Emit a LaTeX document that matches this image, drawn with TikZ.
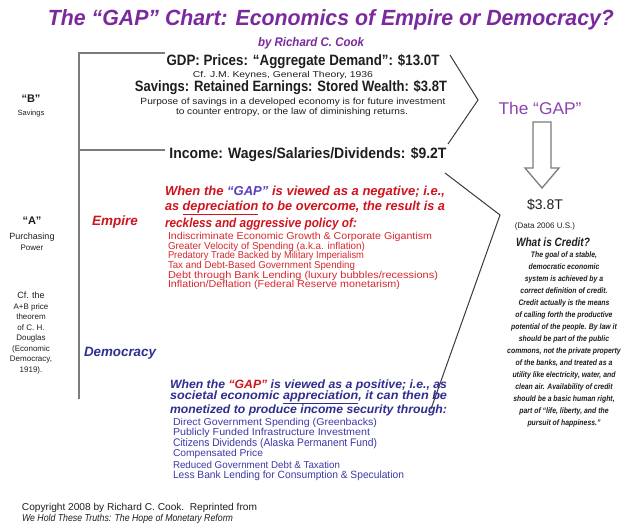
\documentclass[tikz,border=0pt]{standalone}
\usepackage{fontspec}
\setmainfont{Liberation Sans}
\usepackage{graphicx}
% scale a line of text to a given width, keeping its height
\newcommand\fitto[2]{\resizebox{#1}{\height}{#2}}
\newcommand\fsz[1]{\fontsize{#1}{#1}\selectfont}

\definecolor{titlepurple}{HTML}{7A2A9C}
\definecolor{gappurple}{HTML}{8C44B0}
\definecolor{gapblue}{HTML}{5B3BC0}
\definecolor{empirered}{HTML}{D0141E}
\definecolor{listred}{HTML}{D8282E}
\definecolor{demoblue}{HTML}{2E2E90}
\definecolor{listblue}{HTML}{3A3AA8}
\definecolor{rulegray}{HTML}{7C7C7C}
\definecolor{inkgray}{HTML}{1E1E1E}
\definecolor{notegray}{HTML}{3A3A3A}

\begin{document}
\begin{tikzpicture}[x=1pt,y=-1pt,
  lbl/.style={inner sep=0pt, outer sep=0pt, text=inkgray},
  lft/.style={lbl, anchor=west},
  rule/.style={draw=rulegray, line width=2.4pt},
  hrule/.style={draw=rulegray, line width=1.8pt},
  chev/.style={draw=notegray, line width=1pt, line join=miter},
  hollow/.style={draw=rulegray, line width=1.3pt, fill=white, line join=miter}]

\useasboundingbox (0,0) rectangle (629,525);
\fill[white] (0,0) rectangle (629,525);

% heading
\node[lbl, text=titlepurple, font=\fsz{22}\bfseries\itshape] (title) at (331,20)
  {\fitto{566pt}{The “GAP” Chart: Economics of Empire or Democracy?}};
\node[lbl, text=titlepurple, font=\fsz{12.5}\bfseries\itshape] (author) at (311,43)
  {\fitto{106pt}{by Richard C. Cook}};

% bracket on the left
\coordinate (brTop) at (165,53);
\coordinate (brCorner) at (79,53);
\coordinate (brBottom) at (79,399);
\coordinate (brMidL) at (79,150);
\coordinate (brMidR) at (165,150);
\draw[rule] (brTop) -- (brCorner) -- (brBottom);
\draw[hrule] (brMidL) -- (brMidR);

% upper block: GDP and savings
\node[lbl, font=\fsz{15}\bfseries] (gdp) at (303,62)
  {\fitto{273pt}{GDP: Prices: “Aggregate Demand”: \$13.0T}};
\node[lbl, font=\fsz{8.5}] (keynes) at (283,75)
  {\fitto{180pt}{Cf. J.M. Keynes, General Theory, 1936}};
\node[lbl, font=\fsz{15}\bfseries] (savings) at (291,88)
  {\fitto{312pt}{Savings: Retained Earnings: Stored Wealth: \$3.8T}};
\node[lbl, font=\fsz{9}] (purpose1) at (293,102)
  {\fitto{305pt}{Purpose of savings in a developed economy is for future investment}};
\node[lbl, font=\fsz{9}] (purpose2) at (292,112)
  {\fitto{232pt}{to counter entropy, or the law of diminishing returns.}};
\node[lbl, font=\fsz{15}\bfseries] (income) at (308,155)
  {\fitto{277pt}{Income: Wages/Salaries/Dividends: \$9.2T}};

% chevron pointing at the gap
\coordinate (chA) at (450,55);
\coordinate (chB) at (478,100);
\coordinate (chC) at (448,144);
\coordinate (chD) at (445,173);
\coordinate (chE) at (500,215);
\coordinate (chF) at (431,409);
\draw[chev] (chA) -- (chB) -- (chC);
\draw[chev] (chD) -- (chE) -- (chF);

% the gap and its arrow
\node[lbl, text=gappurple, font=\fsz{17}] (gap) at (540,108) {\fitto{83pt}{The “GAP”}};
\draw[hollow] (533,122) -- (551,122) -- (551,168) -- (559,168) -- (542,188)
  -- (525,168) -- (533,168) -- cycle;
\node[lbl, font=\fsz{14}] (amount) at (545,205) {\$3.8T};
\node[lbl, font=\fsz{8}] (data) at (545,226) {(Data 2006 U.S.)};
\node[lbl, font=\fsz{12}\bfseries\itshape] (credit) at (553,242) {\fitto{74pt}{What is Credit?}};
\node[lbl, font=\fontsize{8}{12}\selectfont\bfseries\itshape] (creditbody) at (564,339)
  {\scalebox{0.86}[1]{\begin{tabular}{@{}c@{}}
   The goal of a stable,\\
   democratic economic\\
   system is achieved by a\\
   correct definition of credit.\\
   Credit actually is the means\\
   of calling forth the productive\\
   potential of the people. By law it\\
   should be part of the public\\
   commons, not the private property\\
   of the banks, and treated as a\\
   utility like electricity, water, and\\
   clean air. Availability of credit\\
   should be a basic human right,\\
   part of “life, liberty, and the\\
   pursuit of happiness.”
   \end{tabular}}};

% left column notes
\node[lbl, font=\fsz{11}\bfseries] (bmark) at (31,99) {“B”};
\node[lbl, font=\fsz{7.5}] (bsav) at (31,114) {Savings};
\node[lbl, font=\fsz{11}\bfseries] (amark) at (32,221) {“A”};
\node[lbl, font=\fsz{9}] (apur) at (32,237) {Purchasing};
\node[lbl, font=\fsz{8}] (apow) at (32,248) {Power};
\node[lbl, font=\fontsize{8}{10.5}\selectfont, align=center] (cfnote) at (31,333)
  {{\fsz{9}Cf. the}\\A+B price\\theorem\\of C. H.\\Douglas\\(Economic\\Democracy,\\1919).};

\node[lbl, text=empirered, font=\fsz{13.5}\bfseries\itshape] (empire) at (115,222) {Empire};
\node[lbl, text=demoblue, font=\fsz{13.5}\bfseries\itshape] (democracy) at (120,353) {\fitto{72pt}{Democracy}};

% empire block
\node[lft, text=empirered, font=\fsz{13}\bfseries\itshape] (eh1) at (165,192)
  {\fitto{280pt}{When the \textcolor{gapblue}{“GAP”} is viewed as a negative; i.e.,}};
\node[lft, text=empirered, font=\fsz{13}\bfseries\itshape] (eh2) at (165,208)
  {\fitto{280pt}{as \underline{depreciation} to be overcome, the result is a}};
\node[lft, text=empirered, font=\fsz{13}\bfseries\itshape] (eh3) at (165,224)
  {\fitto{192pt}{reckless and aggressive policy of:}};
\node[lft, text=listred, font=\fsz{10}] (el1) at (168,237)
  {\fitto{264pt}{Indiscriminate Economic Growth \& Corporate Gigantism}};
\node[lft, text=listred, font=\fsz{10}] (el2) at (168,247)
  {\fitto{197pt}{Greater Velocity of Spending (a.k.a. inflation)}};
\node[lft, text=listred, font=\fsz{10}] (el3) at (168,256)
  {\fitto{196pt}{Predatory Trade Backed by Military Imperialism}};
\node[lft, text=listred, font=\fsz{10}] (el4) at (168,266)
  {\fitto{187pt}{Tax and Debt-Based Government Spending}};
\node[lft, text=listred, font=\fsz{10}] (el5) at (168,276)
  {\fitto{270pt}{Debt through Bank Lending (luxury bubbles/recessions)}};
\node[lft, text=listred, font=\fsz{10}] (el6) at (168,285)
  {\fitto{232pt}{Inflation/Deflation (Federal Reserve monetarism)}};

% democracy block
\node[lft, text=demoblue, font=\fsz{12}\bfseries\itshape] (dh1) at (170,385)
  {\fitto{277pt}{When the \textcolor{empirered}{“GAP”} is viewed as a positive; i.e., as}};
\node[lft, text=demoblue, font=\fsz{12}\bfseries\itshape] (dh2) at (170,397)
  {\fitto{277pt}{societal economic \underline{appreciation}, it can then be}};
\node[lft, text=demoblue, font=\fsz{12}\bfseries\itshape] (dh3) at (170,410)
  {\fitto{277pt}{monetized to produce income security through:}};
\node[lft, text=listblue, font=\fsz{10}] (dl1) at (173,423)
  {\fitto{204pt}{Direct Government Spending (Greenbacks)}};
\node[lft, text=listblue, font=\fsz{10}] (dl2) at (173,433)
  {\fitto{197pt}{Publicly Funded Infrastructure Investment}};
\node[lft, text=listblue, font=\fsz{11}] (dl3) at (173,444)
  {\fitto{204pt}{Citizens Dividends (Alaska Permanent Fund)}};
\node[lft, text=listblue, font=\fsz{10}] (dl4) at (173,454)
  {\fitto{90pt}{Compensated Price}};
\node[lft, text=listblue, font=\fsz{10}] (dl5) at (173,465)
  {\fitto{167pt}{Reduced Government Debt \& Taxation}};
\node[lft, text=listblue, font=\fsz{10.5}] (dl6) at (173,476)
  {\fitto{231pt}{Less Bank Lending for Consumption \& Speculation}};

% credit line
\node[lft, font=\fsz{10}] (copy1) at (22,508)
  {\fitto{235pt}{Copyright 2008 by Richard C. Cook.\ \ Reprinted from}};
\node[lft, font=\fsz{10}\itshape] (copy2) at (22,519)
  {\fitto{211pt}{We Hold These Truths: The Hope of Monetary Reform}};
\end{tikzpicture}
\end{document}
